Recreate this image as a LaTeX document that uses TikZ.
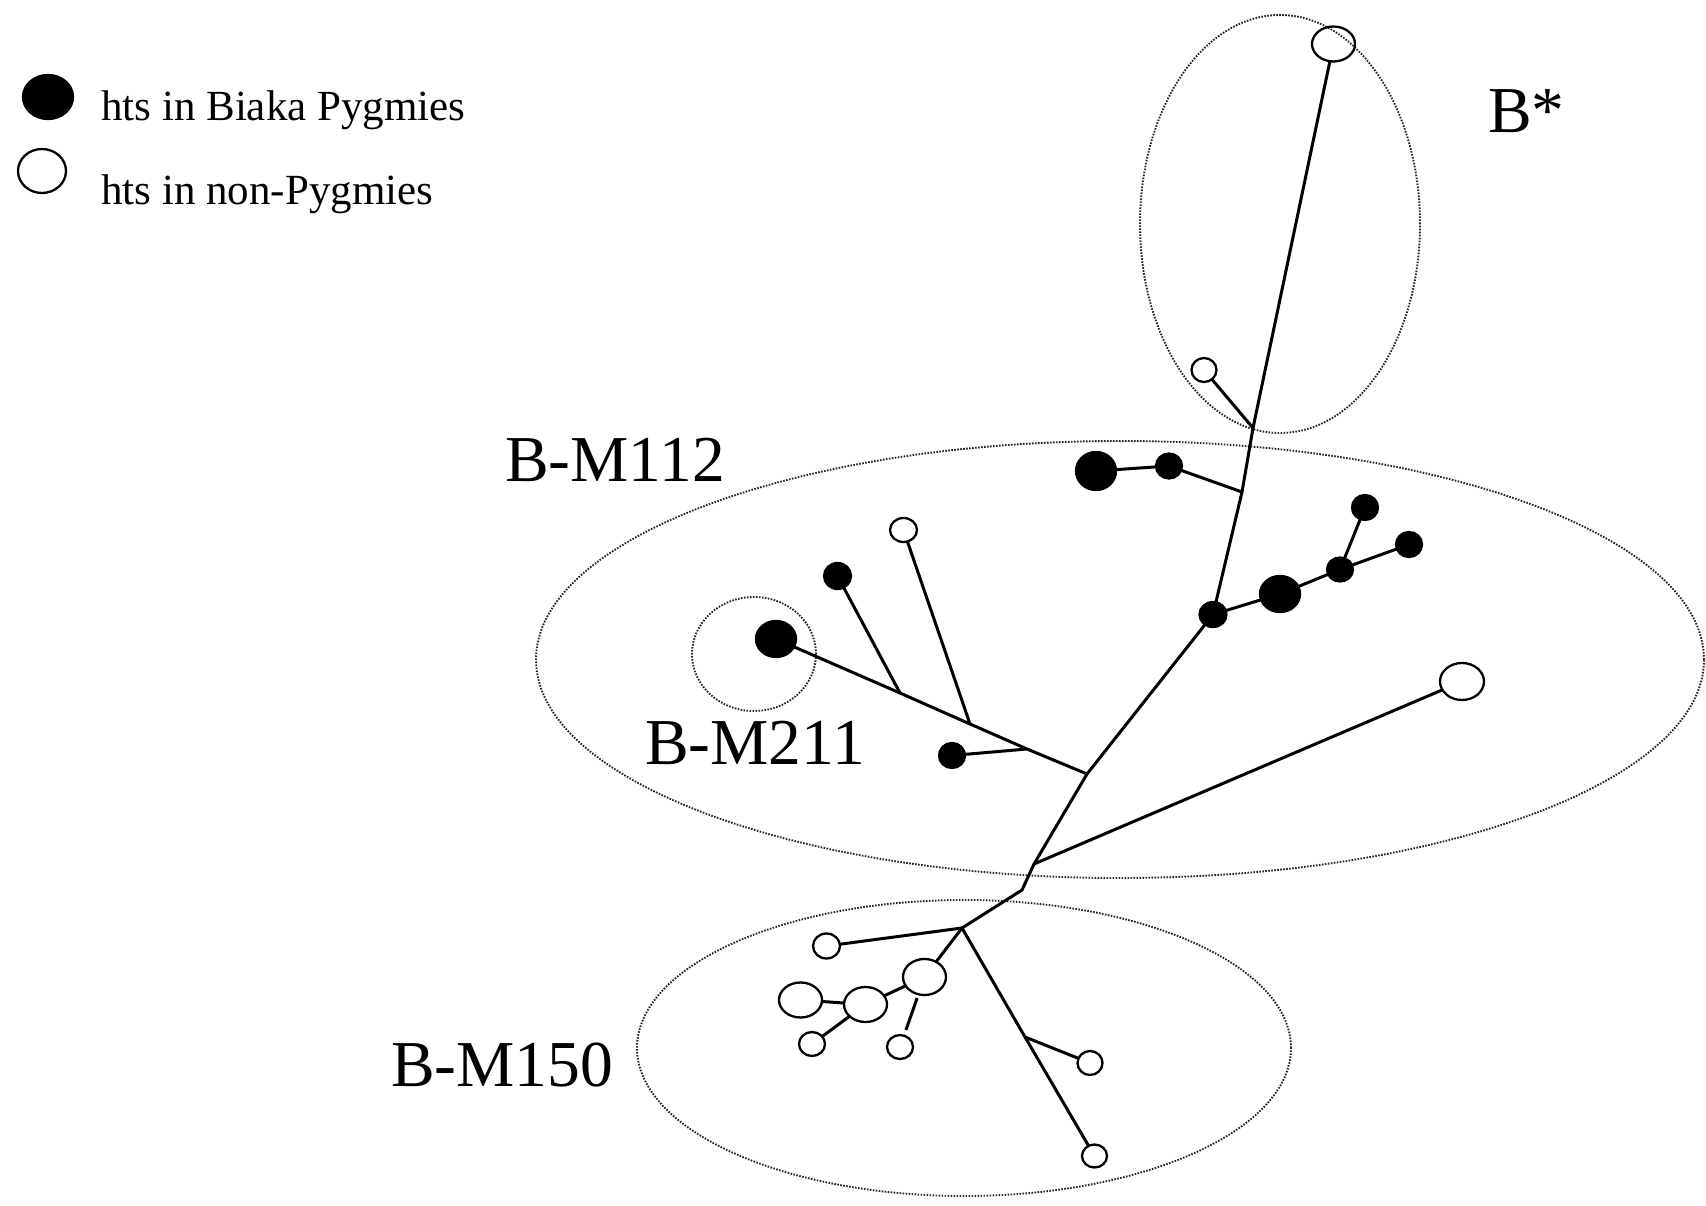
\documentclass[tikz,border=0pt]{standalone}
\usepackage{fontspec}
\setmainfont{Liberation Serif}
\usetikzlibrary{shapes.geometric}
\begin{document}
\begin{tikzpicture}[x=1pt,y=-1pt,
  hap/.style={ellipse, inner sep=0pt, outer sep=0pt, line width=2.3pt, draw=black},
  biaka/.style={hap, fill=black},
  nonpyg/.style={hap},
  sz/.style 2 args={minimum width=#1pt, minimum height=#2pt},
  branch/.style={line width=3pt, draw=black},
  clade/.style={draw=black!85, line width=1.9pt, dash pattern=on 1.6pt off 1.4pt},
  cladelabel/.style={anchor=base west, inner sep=0pt, font=\fontsize{65.5}{72}\selectfont},
  legendtext/.style={anchor=base west, inner sep=0pt, font=\fontsize{43}{48}\selectfont}]
\useasboundingbox (0,0) rectangle (1706,1206);

% clade ellipses
\draw[clade] (1280,224) ellipse [x radius=140pt, y radius=209pt];
\draw[clade] (1120,659.5) ellipse [x radius=584pt, y radius=218.5pt];
\draw[clade] (754,654) ellipse [x radius=62pt, y radius=57pt];
\draw[clade] (964,1048) ellipse [x radius=327pt, y radius=148pt];

% legend
\node[biaka, sz={50}{44}] (lf) at (48,97) {};
\node[nonpyg, sz={48}{44}] (lo) at (42,171) {};
\node[legendtext] (lt1) at (101,121) {hts in Biaka Pygmies};
\node[legendtext] (lt2) at (101,205) {hts in non-Pygmies};

% clade labels
\node[cladelabel] (lbs) at (1488,133) {B*};
\node[cladelabel] (lb112) at (505,481) {B-M112};
\node[cladelabel] (lb211) at (645,764) {B-M211};
\node[cladelabel] (lb150) at (391,1086) {B-M150};

% haplotypes in Biaka Pygmies
\node[biaka, sz={40}{38}] (f1) at (1096,471) {};
\node[biaka, sz={26}{25}] (f2) at (1169,466) {};
\node[biaka, sz={27}{25}] (f3) at (1213,614.5) {};
\node[biaka, sz={40}{36}] (f4) at (1280,594) {};
\node[biaka, sz={26}{24}] (f5) at (1340,569.5) {};
\node[biaka, sz={26}{25}] (f6) at (1365,507.5) {};
\node[biaka, sz={26}{25}] (f7) at (1409,544.5) {};
\node[biaka, sz={40}{36}] (f8) at (776,639) {};
\node[biaka, sz={27}{26}] (f9) at (837.5,576) {};
\node[biaka, sz={26}{25}] (f10) at (952,755.5) {};

% haplotypes in non-Pygmies
\node[nonpyg, sz={43}{35}] (o1) at (1333.5,44) {};
\node[nonpyg, sz={25}{24}] (o2) at (1204,370) {};
\node[nonpyg, sz={27}{24}] (o3) at (903.5,530) {};
\node[nonpyg, sz={44}{37}] (o4) at (1462,681.5) {};
\node[nonpyg, sz={27}{25}] (o5) at (826.5,946) {};
\node[nonpyg, sz={43}{36}] (o6) at (924.5,977) {};
\node[nonpyg, sz={43}{35}] (o7) at (865.5,1004.5) {};
\node[nonpyg, sz={43}{35}] (o8) at (800.5,1000) {};
\node[nonpyg, sz={26}{24}] (o9) at (812,1044) {};
\node[nonpyg, sz={26}{24}] (o10) at (900,1047) {};
\node[nonpyg, sz={25}{24}] (o11) at (1090,1063) {};
\node[nonpyg, sz={25}{23}] (o12) at (1094.5,1156) {};

% internal junctions
\coordinate (jB) at (1253,428);
\coordinate (jC) at (1242,492);
\coordinate (jD) at (1087,774);
\coordinate (jE) at (1034,864);
\coordinate (jF) at (1022,890);
\coordinate (hub) at (962,928);
\coordinate (jG) at (1027,749);
\coordinate (jH) at (970,724);
\coordinate (jI) at (900,693);
\coordinate (jK) at (1025,1037);

% branches
\draw[branch] (o1) -- (jB) -- (jC) -- (f3);
\draw[branch] (o2) -- (jB);
\draw[branch] (f1) -- (f2) -- (jC);
\draw[branch] (f3) -- (f4) -- (f5) -- (f7);
\draw[branch] (f5) -- (f6);
\draw[branch] (f3) -- (jD) -- (jE) -- (jF) -- (hub);
\draw[branch] (jE) -- (o4);
\draw[branch] (jD) -- (jG) -- (jH) -- (jI) -- (f8);
\draw[branch] (jG) -- (f10);
\draw[branch] (jH) -- (o3);
\draw[branch] (jI) -- (f9);
\draw[branch] (hub) -- (o5);
\draw[branch] (hub) -- (o6);
\draw[branch] (o6) -- (o7) -- (o8);
\draw[branch] (o7) -- (o9);
\draw[branch, shorten <=6pt, shorten >=4pt] (o10) -- (o6);
\draw[branch] (hub) -- (jK) -- (o12);
\draw[branch] (jK) -- (o11);
\end{tikzpicture}
\end{document}
